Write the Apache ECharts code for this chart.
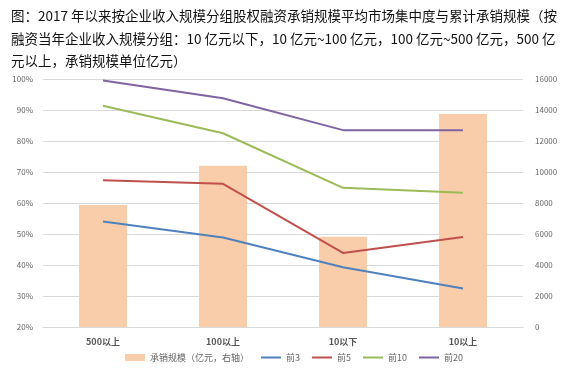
<!DOCTYPE html>
<html><head><meta charset="utf-8">
<script src="https://cdn.jsdelivr.net/npm/echarts@6/dist/echarts.min.js"></script>
<style>html,body{margin:0;padding:0;background:#fff}#c{width:571px;height:373px}</style>
</head><body><div id="c"></div>
<script>
const categories = ['500以上', '100以上', '10以下', '10以上'];
const underwriting = [7870, 10400, 5830, 13740];
const top3 = [54.0, 48.9, 39.3, 32.4];
const top5 = [67.3, 66.2, 43.9, 49.0];
const top10 = [91.4, 82.5, 64.9, 63.3];
const top20 = [99.5, 93.8, 83.5, 83.5];
const titleLines = [
  '图：2017 年以来按企业收入规模分组股权融资承销规模平均市场集中度与累计承销规模（按',
  '融资当年企业收入规模分组：10 亿元以下，10 亿元~100 亿元，100 亿元~500 亿元，500 亿',
  '元以上，承销规模单位亿元）'
];
const chart = echarts.init(document.getElementById('c'));
const font = '"Noto Sans CJK SC", "Noto Sans", sans-serif';
const lineSeries = (name, data, color) => ({
  name, type: 'line', data, yAxisIndex: 0, symbol: 'none',
  lineStyle: { color, width: 2 }, itemStyle: { color }
});
chart.setOption({
  animation: false,
  textStyle: { fontFamily: font },
  title: {
    text: titleLines.join('\n'), left: 6, top: 0,
    textStyle: { fontSize: 13.5, fontWeight: 'normal', color: '#111', lineHeight: 22.5, fontFamily: font }
  },
  grid: { left: 43, right: 48, top: 79, bottom: 46 },
  legend: {
    bottom: 6, left: 120, itemGap: 12, itemWidth: 20, itemHeight: 7,
    textStyle: { fontSize: 9, color: '#666' },
    data: [
      { name: '承销规模（亿元，右轴）', icon: 'rect' },
      { name: '前3', icon: 'path://M0,0H10V1H0Z' },
      { name: '前5', icon: 'path://M0,0H10V1H0Z' },
      { name: '前10', icon: 'path://M0,0H10V1H0Z' },
      { name: '前20', icon: 'path://M0,0H10V1H0Z' }
    ]
  },
  xAxis: {
    type: 'category', data: categories, boundaryGap: true,
    axisLine: { show: true, lineStyle: { color: '#d9d9d9' } },
    axisTick: { show: false },
    axisLabel: { fontSize: 9, color: '#555', fontWeight: 'bold', margin: 10 }
  },
  yAxis: [
    {
      type: 'value', min: 20, max: 100, interval: 10,
      axisLabel: { formatter: '{value}%', fontSize: 8, color: '#666', margin: 10 },
      axisLine: { show: false }, axisTick: { show: false },
      splitLine: { lineStyle: { color: '#d9d9d9' } }
    },
    {
      type: 'value', min: 0, max: 16000, interval: 2000,
      axisLabel: { formatter: v => String(v), fontSize: 8, color: '#666', margin: 12 },
      axisLine: { show: false }, axisTick: { show: false },
      splitLine: { show: false }
    }
  ],
  series: [
    { name: '承销规模（亿元，右轴）', type: 'bar', yAxisIndex: 1, data: underwriting,
      barWidth: '40%', itemStyle: { color: '#F9CDA9' } },
    lineSeries('前3', top3, '#4F81BD'),
    lineSeries('前5', top5, '#C0504D'),
    lineSeries('前10', top10, '#9BBB59'),
    lineSeries('前20', top20, '#8064A2')
  ]
});
</script></body></html>
